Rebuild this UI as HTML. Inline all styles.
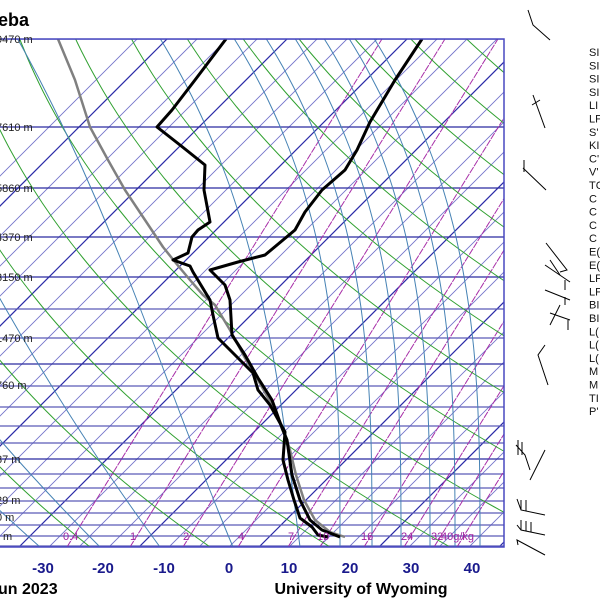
<!DOCTYPE html>
<html><head><meta charset="utf-8">
<style>
html,body{margin:0;padding:0;background:#fff;}
body{width:600px;height:600px;overflow:hidden;position:relative;font-family:"Liberation Sans",Arial,sans-serif;}
svg{position:absolute;left:0;top:0;}
</style></head><body>
<svg id="s" width="600" height="600" viewBox="0 0 600 600" xmlns="http://www.w3.org/2000/svg">
<defs><clipPath id="c"><rect x="0" y="39" width="504" height="508"/></clipPath></defs>
<g id="grid" clip-path="url(#c)"></g>
<g id="prof" clip-path="url(#c)" fill="none" stroke-linejoin="round">
<polyline points="58,39 75,80 90,127 108,160 125,190 145,220 163,247 175,262 190,280 203,295 215,305 230,330 245,358 258,380 272,405 283,428 290,450 296,475 304,500 315,520 330,532 345,537" stroke="#808080" stroke-width="2.5"/>
<polyline points="422,39 395,80 370,122 357,150 345,170 322,190 305,212 295,230 265,255 238,262 210,270 225,285 230,300 232,335 245,355 258,378 272,400 282,428 287,440 292,475 300,500 310,520 322,530 340,537" stroke="#000" stroke-width="3"/>
<polyline points="226,39 195,80 172,110 157,127 180,145 205,165 204,190 210,222 198,230 192,237 188,253 173,260 190,266 193,272 210,300 213,315 218,338 235,355 253,373 258,390 270,405 285,432 283,460 288,480 294,500 300,518 312,527 318,535 328,537" stroke="#000" stroke-width="3"/>
</g>
<rect x="-2" y="39" width="506" height="508" fill="none" stroke="#4848c0" stroke-width="1.5"/>
<g font-size="11" fill="#222">
<text x="-4" y="43">9470 m</text><text x="-4" y="131">7610 m</text><text x="-4" y="192">5860 m</text>
<text x="-4" y="241">4370 m</text><text x="-4" y="281">3150 m</text><text x="-4" y="342">1470 m</text>
<text x="-4" y="389">760 m</text><text x="-4" y="463">87 m</text><text x="-4" y="504">29 m</text>
<text x="-4" y="521">0 m</text><text x="3" y="540">m</text>
</g>
<g font-size="11" fill="#a020a0">
<text x="63" y="540">0.4</text><text x="130" y="540">1</text><text x="183" y="540">2</text><text x="238" y="540">4</text><text x="288" y="540">7</text><text x="317" y="540">10</text><text x="361" y="540">16</text><text x="401" y="540">24</text><text x="431" y="540">32</text><text x="441" y="540">40g/kg</text>
</g>
<g font-size="15" font-weight="bold" fill="#1a1a8c" text-anchor="middle">
<text x="43" y="573">-30</text><text x="103" y="573">-20</text><text x="164" y="573">-10</text><text x="229" y="573">0</text><text x="289" y="573">10</text><text x="350" y="573">20</text><text x="411" y="573">30</text><text x="472" y="573">40</text>
</g>
<text x="-2" y="594" font-size="16" font-weight="bold" fill="#000">un 2023</text>
<text x="361" y="594" font-size="16" font-weight="bold" fill="#000" text-anchor="middle">University of Wyoming</text>
<text x="-2" y="26" font-size="18" font-weight="bold" fill="#000">eba</text>
<g font-size="11" fill="#111" id="idx"></g>
<g stroke="#000" stroke-width="1" fill="none">
<polyline points="528,10 533,25 550,40"/>
<polyline points="533,95 545,128"/><line x1="532" y1="105" x2="540" y2="100"/>
<polyline points="523,168 546,190"/><line x1="524" y1="160" x2="524" y2="172"/>
<polyline points="546,243 567,270 560,272"/><polyline points="550,260 560,275"/>
<polyline points="545,265 570,282"/><line x1="565" y1="280" x2="565" y2="290"/>
<polyline points="545,290 570,300"/><line x1="565" y1="297" x2="565" y2="305"/>
<polyline points="550,313 570,320"/><line x1="568" y1="320" x2="568" y2="330"/><line x1="550" y1="325" x2="560" y2="305"/>
<polyline points="545,345 538,355 548,385"/>
<polyline points="516,445 525,455 530,470"/><line x1="518" y1="440" x2="518" y2="455"/><line x1="522" y1="442" x2="522" y2="455"/>
<polyline points="530,480 545,450"/>
<polyline points="517,499 521,510 545,515"/><line x1="521" y1="500" x2="521" y2="510"/><line x1="526" y1="500" x2="526" y2="511"/>
<polyline points="517,525 521,530 545,535"/><line x1="521" y1="520" x2="521" y2="530"/><line x1="526" y1="521" x2="526" y2="531"/><line x1="531" y1="522" x2="531" y2="532"/>
<polyline points="518,545 517,540 545,555"/>
</g>
</svg>
<script>
(function(){
var g=document.getElementById('grid');var ns='http://www.w3.org/2000/svg';
function add(tag,a){var e=document.createElementNS(ns,tag);for(var k in a)e.setAttribute(k,a[k]);g.appendChild(e);return e;}
// isotherms
for(var k=-20;k<=10;k++){var x0=229+30*k;var dark=(((k%4)+4)%4===1);
add('line',{x1:x0,y1:547,x2:x0+508,y2:39,stroke:dark?'#2a2aa8':'#7474ca','stroke-width':dark?1.2:0.9});}
// horizontal pressure lines
var hs=[39,127,188,237,277,309,338,364,386,407,426,443,459,474,488,501,513,525,536,546];
hs.forEach(function(y,i){add('line',{x1:0,y1:y,x2:504,y2:y,stroke:(i<5||i==7||i==12)?'#2a2aa0':'#5a5ab8','stroke-width':1.3});});
// mixing ratio
[70,133,186,241,291,323,367,407,437,460].forEach(function(xb){
add('line',{x1:xb-3,y1:547,x2:xb-3+0.62*508,y2:39,stroke:'#a830a8','stroke-width':1,'stroke-dasharray':'7,1'});});
// dry adiabats
var K=190;
for(var th=150;th<=560;th+=20){var pts=[];for(var d=0;d<=520;d+=8){var TK=th*Math.exp(-0.286*d/K);var x=229+6*(TK-273.15)+d;pts.push(x.toFixed(1)+','+(547-d));}
add('polyline',{points:pts.join(' '),fill:'none',stroke:'#30a030','stroke-width':1});}
// moist adiabats
function dry(d){return 1.25*d-0.00074*d*d;}
[-80,-20,40,100,160,233,300,340,372,401,430,455,480].forEach(function(xb){
var w=Math.max(0,Math.min(1,(330-xb)/260));var pts=[];
for(var d=0;d<=520;d+=10){var cub=8.06e-7*d*d*d;var v=w*dry(d)*0.9+(1-w)*cub;pts.push((xb-v).toFixed(1)+','+(547-d));}
add('polyline',{points:pts.join(' '),fill:'none',stroke:'#4682b4','stroke-width':1});});
var idx=document.getElementById('idx');
var L=["SI","SI","SI","SI","LI","LF","S'","KI","C'","V'","TC","C","C","C","C","E(","E(","LF","LF","BI","BI","L(","L(","L(","M","M","TI","P'"];
L.forEach(function(t,i){var e=document.createElementNS(ns,'text');e.setAttribute('x',589);e.setAttribute('y',56+i*13.3);e.textContent=t;idx.appendChild(e);});
})();
</script>
</body></html>
